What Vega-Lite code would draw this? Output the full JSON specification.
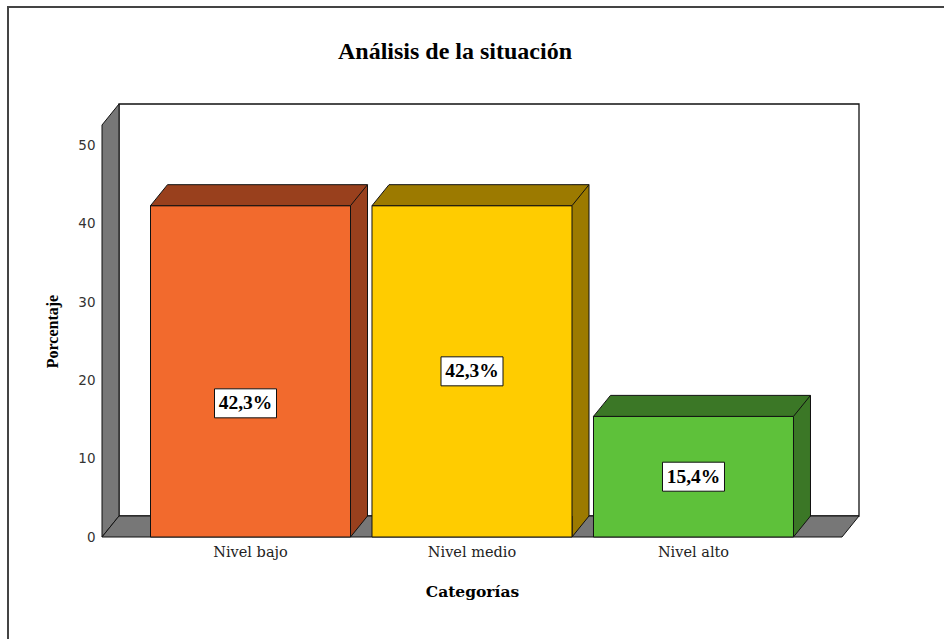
{
  "$schema": "https://vega.github.io/schema/vega-lite/v6.json",
  "autosize": {"type": "none"},
  "width": 740,
  "height": 412,
  "padding": {"left": 102, "top": 125, "right": 102, "bottom": 102},
  "background": "white",
  "config": {"view": {"stroke": null}},
  "title": {"text": "Análisis de la situación", "font": "Liberation Serif", "fontSize": 24, "fontWeight": "bold", "color": "black", "frame": "group", "offset": -61, "dx": -17},
  "data": {"values": [
    {"cat": "Nivel bajo", "value": 42.3, "label": "42,3%"},
    {"cat": "Nivel medio", "value": 42.3, "label": "42,3%"},
    {"cat": "Nivel alto", "value": 15.4, "label": "15,4%"}
  ]},
  "resolve": {"scale": {"y": "independent"}, "axis": {"y": "independent"}},
  "layer": [
    {
      "transform": [{"aggregate": [{"op": "count", "as": "n"}]}],
      "mark": {"type": "point", "shape": "M -464 308 L -464 -324 L 472 -324", "size": 4, "filled": false, "stroke": "#444444", "strokeWidth": 2, "opacity": 1, "clip": false},
      "encoding": {}
    },
    {
      "transform": [{"aggregate": [{"op": "count", "as": "n"}]}],
      "mark": {"type": "point", "shape": "M -353 -227 L 387 -227 L 387 185 L -353 185 Z", "size": 4, "filled": true, "fill": "white", "stroke": "#111111", "strokeWidth": 1.3, "opacity": 1},
      "encoding": {}
    },
    {
      "transform": [{"aggregate": [{"op": "count", "as": "n"}]}],
      "mark": {"type": "point", "shape": "M -370 206 L -370 -206 L -353 -227 L -353 185 Z", "size": 4, "filled": true, "fill": "#777777", "stroke": "#111111", "strokeWidth": 1, "opacity": 1},
      "encoding": {}
    },
    {
      "transform": [{"aggregate": [{"op": "count", "as": "n"}]}],
      "mark": {"type": "point", "shape": "M -370 206 L 370 206 L 387 185 L -353 185 Z", "size": 4, "filled": true, "fill": "#777777", "stroke": "#111111", "strokeWidth": 1, "opacity": 1},
      "encoding": {}
    },
    {
      "encoding": {
        "x": {
          "field": "cat", "type": "nominal", "sort": ["Nivel bajo", "Nivel medio", "Nivel alto"],
          "scale": {"paddingInner": 0.097, "paddingOuter": 0.219},
          "axis": {"title": "Categorías", "domain": false, "ticks": false, "labelAngle": 0, "labelFont": "DejaVu Serif", "labelFontSize": 14.5, "labelColor": "#222222", "labelPadding": 8, "titleFont": "DejaVu Serif", "titleFontSize": 15.5, "titleFontWeight": "bold", "titleColor": "black", "titlePadding": 26}
        },
        "y": {
          "field": "value", "type": "quantitative",
          "scale": {"domain": [0, 52.6], "nice": false, "zero": true},
          "axis": {"values": [0, 10, 20, 30, 40, 50], "title": "Porcentaje", "domain": false, "ticks": false, "grid": false, "labelFont": "DejaVu Sans", "labelFontSize": 13.5, "labelColor": "#333333", "labelPadding": 7, "titleFont": "Liberation Serif", "titleFontSize": 16, "titleFontWeight": "bold", "titleColor": "black", "titlePadding": 17}
        }
      },
      "layer": [
        {
          "mark": {"type": "bar", "width": 17, "xOffset": 108.5, "yOffset": -21, "y2Offset": -21, "strokeWidth": 0},
          "encoding": {
            "y2": {"datum": 0},
            "fill": {"field": "cat", "type": "nominal", "scale": {"domain": ["Nivel bajo", "Nivel medio", "Nivel alto"], "range": ["#99401D", "#9C7A00", "#3B7726"]}, "legend": null}
          }
        },
        {
          "mark": {"type": "point", "shape": "M 100 -21 L 100 0 L 117 -21", "size": 4, "filled": true, "stroke": "#111111", "strokeWidth": 1, "opacity": 1},
          "encoding": {
            "y": {"datum": 0},
            "fill": {"field": "cat", "type": "nominal", "scale": {"domain": ["Nivel bajo", "Nivel medio", "Nivel alto"], "range": ["#99401D", "#9C7A00", "#3B7726"]}, "legend": null}
          }
        },
        {
          "mark": {"type": "rule", "xOffset": 117, "yOffset": -21, "y2Offset": -21, "stroke": "#111111", "strokeWidth": 1},
          "encoding": {"y2": {"datum": 0}}
        },
        {
          "mark": {"type": "bar", "stroke": "#111111", "strokeWidth": 1},
          "encoding": {
            "y2": {"datum": 0},
            "color": {"field": "cat", "type": "nominal", "scale": {"domain": ["Nivel bajo", "Nivel medio", "Nivel alto"], "range": ["#F26A2D", "#FFCC00", "#5EC13A"]}, "legend": null}
          }
        },
        {
          "mark": {"type": "point", "shape": "M -100 0 L 100 0 L 117 -21 L -83 -21 Z", "size": 4, "filled": true, "stroke": "#111111", "strokeWidth": 1, "opacity": 1},
          "encoding": {
            "fill": {"field": "cat", "type": "nominal", "scale": {"domain": ["Nivel bajo", "Nivel medio", "Nivel alto"], "range": ["#99401D", "#9C7A00", "#3B7726"]}, "legend": null}
          }
        }
      ]
    },
    {
      "encoding": {
        "x": {"field": "cat", "type": "nominal", "sort": ["Nivel bajo", "Nivel medio", "Nivel alto"]},
        "y": {"field": "value", "type": "quantitative", "scale": {"domain": [0, 105.2], "nice": false, "zero": true}, "axis": null}
      },
      "layer": [
        {
          "transform": [{"filter": "datum.cat != 'Nivel bajo'"}],
          "mark": {"type": "point", "shape": "M -31 -14.5 L 31 -14.5 L 31 14.5 L -31 14.5 Z", "size": 4, "filled": true, "fill": "white", "stroke": "#111111", "strokeWidth": 1, "opacity": 1}
        },
        {
          "transform": [{"filter": "datum.cat != 'Nivel bajo'"}],
          "mark": {"type": "text", "font": "Liberation Serif", "fontSize": 19.5, "fontWeight": "bold", "color": "black", "baseline": "middle", "align": "center"},
          "encoding": {"text": {"field": "label"}}
        },
        {
          "transform": [{"filter": "datum.cat == 'Nivel bajo'"}],
          "mark": {"type": "point", "shape": "M -31 -14.5 L 31 -14.5 L 31 14.5 L -31 14.5 Z", "size": 4, "filled": true, "fill": "white", "stroke": "#111111", "strokeWidth": 1, "opacity": 1, "yOffset": 32, "xOffset": -5}
        },
        {
          "transform": [{"filter": "datum.cat == 'Nivel bajo'"}],
          "mark": {"type": "text", "font": "Liberation Serif", "fontSize": 19.5, "fontWeight": "bold", "color": "black", "baseline": "middle", "align": "center", "yOffset": 32, "xOffset": -5},
          "encoding": {"text": {"field": "label"}}
        }
      ]
    }
  ]
}
